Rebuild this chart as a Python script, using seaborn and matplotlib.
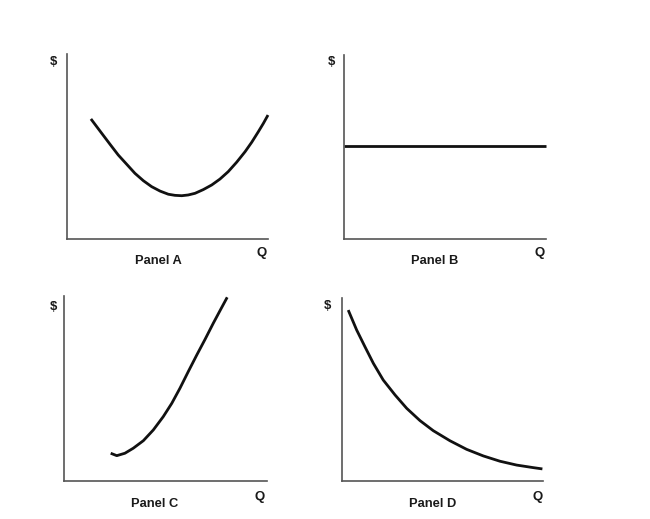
import numpy as np
import pandas as pd
import seaborn as sns
import matplotlib
matplotlib.use("Agg")
import matplotlib.pyplot as plt

# == curve data (axis units 0-10) == #

A_q = [1.19, 1.73, 2.14, 2.55, 2.97, 3.38, 3.80, 4.21, 4.63, 5.04, 5.37, 5.71,
       6.03, 6.37, 6.78, 7.20, 7.61, 8.02, 8.44, 8.86, 9.19, 9.52, 9.77, 10.0]
A_cost = [6.49, 5.71, 5.12, 4.54, 4.04, 3.55, 3.15, 2.83, 2.59, 2.42, 2.36, 2.34,
          2.38, 2.47, 2.67, 2.92, 3.24, 3.64, 4.15, 4.72, 5.23, 5.80, 6.25, 6.70]

B_q = [0.0, 10.0]
B_cost = [5.05, 5.05]

C_q = [2.30, 2.60, 3.00, 3.41, 3.91, 4.40, 4.89, 5.31, 5.71, 6.12, 6.54, 6.95,
       7.35, 7.72, 8.04]
C_cost = [1.50, 1.37, 1.50, 1.77, 2.18, 2.76, 3.48, 4.20, 5.01, 5.91, 6.81, 7.66,
          8.52, 9.28, 9.93]

D_q = [0.31, 0.73, 1.14, 1.56, 2.05, 2.64, 3.22, 3.88, 4.54, 5.37, 6.20, 7.03,
       7.86, 8.69, 9.52, 9.97]
D_cost = [9.34, 8.25, 7.34, 6.43, 5.52, 4.70, 3.97, 3.30, 2.75, 2.20, 1.73, 1.37,
          1.08, 0.87, 0.73, 0.66]

panel_names = ["Panel A", "Panel B", "Panel C", "Panel D"]

sns.set_style("white")
plt.rcParams['font.family'] = ['Liberation Sans', 'DejaVu Sans']

W, H = 650, 519
fig = plt.figure(figsize=(W / 100, H / 100), dpi=100)

# -- axes boxes in pixels: left, top, right, bottom
boxes = [(67, 54, 268, 239), (344, 55, 546, 239),
         (64, 296, 267, 481), (342, 298, 543, 481)]
series = [(A_q, A_cost), (B_q, B_cost), (C_q, C_cost), (D_q, D_cost)]

# -- label spots in pixels: ($ x,y), (panel name x,y), (Q x,y)
labels = [((53, 62), (158, 261), (262, 253)),
          ((331, 62), (435, 261), (540, 253)),
          ((53, 307), (155, 504), (260, 497)),
          ((327, 306), (433, 504), (538, 497))]


def ptext(px, py, s, size=9.3):
    fig.text(px / W, 1 - py / H, s, ha='center', va='center',
             fontsize=size, fontweight='bold', color='#1a1a1a')


for box, (q, c), name, lab in zip(boxes, series, panel_names, labels):
    l, t, r, b = box
    ax = fig.add_axes([l / W, 1 - b / H, (r - l) / W, (b - t) / H])
    df = pd.DataFrame({'Q': q, 'cost': c})
    sns.lineplot(data=df, x='Q', y='cost', ax=ax, color='#111111',
                 linewidth=2.0, sort=False, estimator=None)
    ax.set_xlim(0, 10)
    ax.set_ylim(0, 10)
    ax.set_xticks([])
    ax.set_yticks([])
    ax.set_xlabel('')
    ax.set_ylabel('')
    sns.despine(ax=ax)
    for s in ['left', 'bottom']:
        ax.spines[s].set_color('#555555')
        ax.spines[s].set_linewidth(1.2)
    ax.patch.set_alpha(0)
    for ln in ax.lines:
        ln.set_clip_on(False)
        ln.set_solid_joinstyle('round')
        ln.set_solid_capstyle('butt')

    ptext(*lab[0], '$', size=9.5)
    ptext(*lab[1], name)
    ptext(*lab[2], 'Q', size=9.5)

fig.savefig('out.png', dpi=100, facecolor='white')
